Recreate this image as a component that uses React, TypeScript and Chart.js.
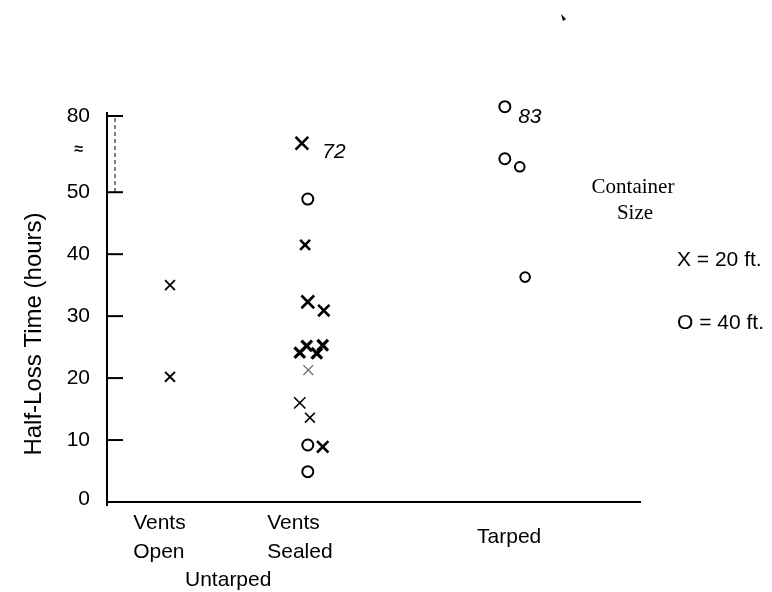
import React, { useEffect, useRef } from 'react';
import { Chart, registerables } from 'chart.js';

Chart.register(...registerables);

// ---- data (positions on the plotted, broken y axis) ----
const categoryLines = [['Vents', 'Open'], ['Vents', 'Sealed'], ['Tarped']];
const categoryLeft = [4.9, 30.0, 69.3];
const groupLabel = 'Untarped';
const groupCenter = 22.7;

const yTickPositions = [0, 10, 20, 30, 40, 50, 62.3];
const yTickLabels = ['0', '10', '20', '30', '40', '50', '80'];
const breakMarkPos = 56.8;

// 20 ft containers (X)
const x20 = [11.8, 11.8, 36.5, 37.1, 37.6, 40.6, 36.1, 37.4, 39.3, 40.4, 37.7, 36.1, 38.0, 40.4];
const y20 = [35.0, 20.2, 57.9, 41.5, 32.3, 30.9, 24.1, 25.2, 24.0, 25.3, 21.3, 16.0, 13.6, 8.9];
const r20 = [7, 7, 9, 7, 9, 8, 7.5, 7.5, 7.5, 7.5, 7, 8, 7, 8];
const w20 = [1.8, 2, 2.6, 2.6, 2.6, 2.6, 3.2, 3.2, 3.2, 3.2, 1.2, 1.6, 1.6, 2.6];
const c20 = ['#000', '#000', '#000', '#000', '#000', '#000', '#000', '#000', '#000', '#000', '#666', '#000', '#000', '#000'];

// 40 ft containers (O)
const x40 = [37.6, 37.6, 37.6, 74.5, 74.5, 77.3, 78.3];
const y40 = [48.9, 9.2, 4.9, 63.8, 55.4, 54.1, 36.3];
const r40 = [5.5, 5.5, 5.5, 5.5, 5.5, 4.8, 4.8];

const notes = ['72', '83'];
const noteX = [40.3, 77.0];
const noteY = [56.5, 62.1];

const yTitle = 'Half-Loss Time (hours)';
const legendTitle = ['Container', 'Size'];
const legendItems = ['X = 20 ft.', 'O = 40 ft.'];

const SANS = '"Liberation Sans", Arial, sans-serif';
const SERIF = '"Liberation Serif", "Times New Roman", serif';

const decor = {
  id: 'decor',
  afterDraw(chart: any) {
    const { ctx, chartArea, scales } = chart;
    const ys = scales.y;
    const xs = scales.x;
    const left = chartArea.left;
    const right = chartArea.right;
    const bottom = chartArea.bottom;
    ctx.save();
    ctx.strokeStyle = '#000';
    ctx.fillStyle = '#000';
    ctx.lineWidth = 2;
    ctx.lineCap = 'butt';
    const topTick = ys.getPixelForValue(yTickPositions[yTickPositions.length - 1]);
    // axes
    ctx.beginPath();
    ctx.moveTo(left, topTick - 4);
    ctx.lineTo(left, bottom + 4);
    ctx.moveTo(left - 1, bottom);
    ctx.lineTo(right, bottom);
    ctx.stroke();
    // ticks + labels
    ctx.font = `21px ${SANS}`;
    ctx.textAlign = 'right';
    ctx.textBaseline = 'middle';
    yTickPositions.forEach((v, i) => {
      const py = ys.getPixelForValue(v);
      if (v !== 0) {
        ctx.beginPath();
        ctx.moveTo(left, py);
        ctx.lineTo(left + 16, py);
        ctx.stroke();
      }
      ctx.fillText(yTickLabels[i], left - 17, v === 0 ? py - 3 : py);
    });
    // break: dashed line and ≈
    ctx.save();
    ctx.lineWidth = 1;
    ctx.setLineDash([4, 3]);
    ctx.beginPath();
    ctx.moveTo(left + 8, topTick + 2);
    ctx.lineTo(left + 8, ys.getPixelForValue(50));
    ctx.stroke();
    ctx.restore();
    ctx.font = `bold 16px ${SANS}`;
    ctx.textAlign = 'center';
    ctx.fillText('≈', 79, ys.getPixelForValue(breakMarkPos));

    // category labels
    ctx.font = `21px ${SANS}`;
    ctx.textAlign = 'left';
    categoryLines.forEach((lines, i) => {
      const px = xs.getPixelForValue(categoryLeft[i]);
      if (lines.length === 2) {
        ctx.fillText(lines[0], px, bottom + 21);
        ctx.fillText(lines[1], px, bottom + 50);
      } else {
        ctx.fillText(lines[0], px, bottom + 35);
      }
    });
    ctx.textAlign = 'center';
    ctx.fillText(groupLabel, xs.getPixelForValue(groupCenter), bottom + 78);

    // annotations
    ctx.font = `italic 21px ${SANS}`;
    ctx.textAlign = 'left';
    notes.forEach((t, i) => {
      ctx.fillText(t, xs.getPixelForValue(noteX[i]), ys.getPixelForValue(noteY[i]));
    });

    // y title
    ctx.save();
    ctx.translate(34, 334);
    ctx.rotate(-Math.PI / 2);
    ctx.font = `24px ${SANS}`;
    ctx.textAlign = 'center';
    ctx.fillText(yTitle, 0, 0);
    ctx.restore();

    // legend
    ctx.font = `21px ${SERIF}`;
    ctx.textAlign = 'center';
    ctx.fillText(legendTitle[0], 633, 187);
    ctx.fillText(legendTitle[1], 635, 213);
    ctx.font = `21px ${SANS}`;
    ctx.textAlign = 'left';
    ctx.fillText(legendItems[0], 677, 260);
    ctx.fillText(legendItems[1], 677, 323);

    // small stray mark at top
    ctx.beginPath();
    ctx.moveTo(561, 14);
    ctx.lineTo(566, 19);
    ctx.lineTo(563, 21);
    ctx.closePath();
    ctx.fill();
    ctx.restore();
  },
};

export default function App() {
  const ref = useRef<HTMLCanvasElement | null>(null);
  useEffect(() => {
    if (!ref.current) return;
    const chart = new Chart(ref.current, {
      type: 'scatter',
      data: {
        datasets: [
          {
            label: '20 ft.',
            data: x20.map((x, i) => ({ x, y: y20[i] })),
            pointStyle: 'crossRot',
            pointRadius: r20,
            pointHoverRadius: r20,
            pointBorderWidth: w20,
            borderColor: c20,
            backgroundColor: c20,
            clip: false,
          } as any,
          {
            label: '40 ft.',
            data: x40.map((x, i) => ({ x, y: y40[i] })),
            pointStyle: 'circle',
            pointRadius: r40,
            pointHoverRadius: r40,
            pointBorderWidth: 2,
            borderColor: '#000',
            backgroundColor: 'rgba(0,0,0,0)',
            clip: false,
          } as any,
        ],
      },
      options: {
        responsive: false,
        animation: false,
        events: [],
        layout: { padding: { left: 107, right: 131, top: 89, bottom: 90 } },
        plugins: { legend: { display: false }, tooltip: { enabled: false } },
        scales: {
          x: { type: 'linear', min: 0, max: 100, display: false },
          y: { type: 'linear', min: 0, max: 66.66, display: false },
        },
      },
      plugins: [decor],
    });
    return () => chart.destroy();
  }, []);
  return (
    <div style={{ position: 'fixed', left: 0, top: 0, width: 772, height: 592, background: '#fff' }}>
      <canvas ref={ref} width={772} height={592} style={{ width: 772, height: 592 }} />
    </div>
  );
}
